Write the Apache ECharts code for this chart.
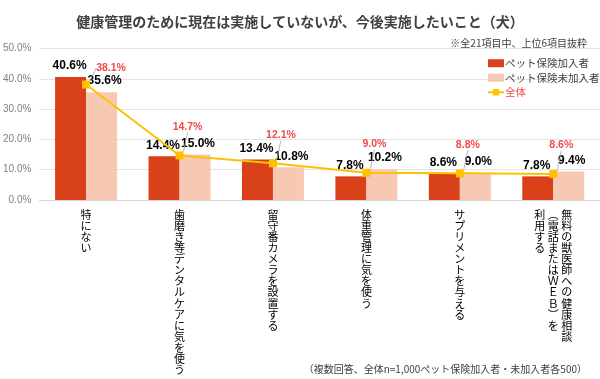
<!DOCTYPE html>
<html><head><meta charset="utf-8">
<script src="https://cdn.jsdelivr.net/npm/echarts@6/dist/echarts.min.js"></script>
<style>html,body{margin:0;padding:0;background:#fff}#c{width:600px;height:379px}</style>
</head><body><div id="c"></div>
<script>
const categories = [
  "特にない",
  "歯磨き等デンタルケアに気を使う",
  "留守番カメラを設置する",
  "体重管理に気を使う",
  "サプリメントを与える",
  "無料の獣医師への健康相談\n（電話またはWEB）を\n利用する"
];
const insured = [40.6, 14.4, 13.4, 7.8, 8.6, 7.8];
const uninsured = [35.6, 15.0, 10.8, 10.2, 9.0, 9.4];
const overall = [38.1, 14.7, 12.1, 9.0, 8.8, 8.6];
const yTicks = [0, 10, 20, 30, 40, 50];

const FONT = '"Noto Sans CJK JP", "Noto Sans", sans-serif';
const RED = '#d8411a', PINK = '#f7c9b3', GOLD = '#ffc000', LRED = '#ee4b4b';

function toVertical(name) {
  const map = {'（':'︵','）':'︶','(':'︵',')':'︶'};
  const cols = name.split('\n').map(s => Array.from(s).map(ch => {
    if (map[ch]) return map[ch];
    const c = ch.charCodeAt(0);
    if (c >= 0x21 && c <= 0x7e) return String.fromCharCode(c + 0xfee0);
    return ch;
  }));
  const n = Math.max(...cols.map(c => c.length));
  const rows = [];
  for (let i = 0; i < n; i++) {
    const parts = [];
    for (let j = cols.length - 1; j >= 0; j--) parts.push(cols[j][i] || '　');
    rows.push(parts.join(' '));
  }
  return rows.join('\n');
}

const chart = echarts.init(document.getElementById('c'));
chart.setOption({
  animation: false,
  backgroundColor: '#fff',
  textStyle: { fontFamily: FONT },
  title: [{
    text: '健康管理のために現在は実施していないが、今後実施したいこと（犬）',
    left: 'center', top: 10,
    textStyle: { fontSize: 14, fontWeight: 'bold', color: '#404040', fontFamily: FONT }
  }, {
    text: '※全21項目中、上位6項目抜粋',
    right: 8, top: 33,
    textStyle: { fontSize: 10, fontWeight: 'normal', color: '#404040', fontFamily: FONT }
  }, {
    text: '（複数回答、全体n=1,000ペット保険加入者・未加入者各500）',
    right: 8, bottom: 0,
    textStyle: { fontSize: 10, fontWeight: 'normal', color: '#404040', fontFamily: FONT }
  }],
  legend: {
    orient: 'vertical', left: 482, top: 53,
    itemWidth: 16, itemHeight: 8, itemGap: 4,
    textStyle: { fontSize: 10.5, color: '#404040', fontFamily: FONT, padding: [0, 0, 0, -4] },
    data: [
      { name: 'ペット保険加入者', icon: 'rect' },
      { name: 'ペット保険未加入者', icon: 'rect' },
      { name: '全体', textStyle: { color: LRED } }
    ]
  },
  grid: { left: 36, right: 0, top: 48.5, bottom: 179, containLabel: false },
  xAxis: {
    type: 'category', data: categories,
    axisTick: { show: false },
    axisLine: { lineStyle: { color: '#d9d9d9' } },
    axisLabel: {
      interval: 0, margin: 9, fontSize: 11, lineHeight: 11.1, color: '#000',
      fontFamily: FONT, verticalAlign: 'top',
      formatter: v => toVertical(v)
    }
  },
  yAxis: {
    type: 'value', min: yTicks[0], max: yTicks[yTicks.length - 1], interval: 10,
    axisLine: { show: false }, axisTick: { show: false },
    splitLine: { lineStyle: { color: '#e3e3e3' } },
    axisLabel: { formatter: v => v.toFixed(1) + '%', fontSize: 10, color: '#7f7f7f', margin: 8, fontFamily: 'Liberation Sans, Arial, sans-serif' }
  },
  series: [{
    name: 'ペット保険加入者', type: 'bar', data: insured,
    barWidth: 31, barGap: '0%',
    itemStyle: { color: RED },
    label: { show: true, position: 'top', distance: 5, formatter: p => p.value.toFixed(1) + '%',
      fontSize: 12, fontWeight: 'bold', color: '#000', fontFamily: 'Liberation Sans, Arial, sans-serif', offset: [-1, 0] }
  }, {
    name: 'ペット保険未加入者', type: 'bar', data: uninsured,
    barWidth: 31,
    itemStyle: { color: PINK },
    label: { show: true, position: 'top', distance: 5, formatter: p => p.value.toFixed(1) + '%',
      fontSize: 12, fontWeight: 'bold', color: '#000', fontFamily: 'Liberation Sans, Arial, sans-serif', offset: [3, 0] }
  }, {
    name: '全体', type: 'line', data: overall,
    symbol: 'rect', symbolSize: 8,
    lineStyle: { color: GOLD, width: 2 },
    itemStyle: { color: GOLD },
    z: 5,
    label: { show: true, position: 'top', distance: 4, formatter: p => p.value.toFixed(1) + '%',
      fontSize: 10.5, fontWeight: 'bold', color: LRED, fontFamily: 'Liberation Sans, Arial, sans-serif' },
    labelLine: { show: true, lineStyle: { color: '#a6a6a6', width: 0.8 } },
    labelLayout: p => p.dataIndex === 0 ? { dx: 25, dy: -3 } : { dx: 8, dy: -15 }
  }]
});
</script></body></html>
